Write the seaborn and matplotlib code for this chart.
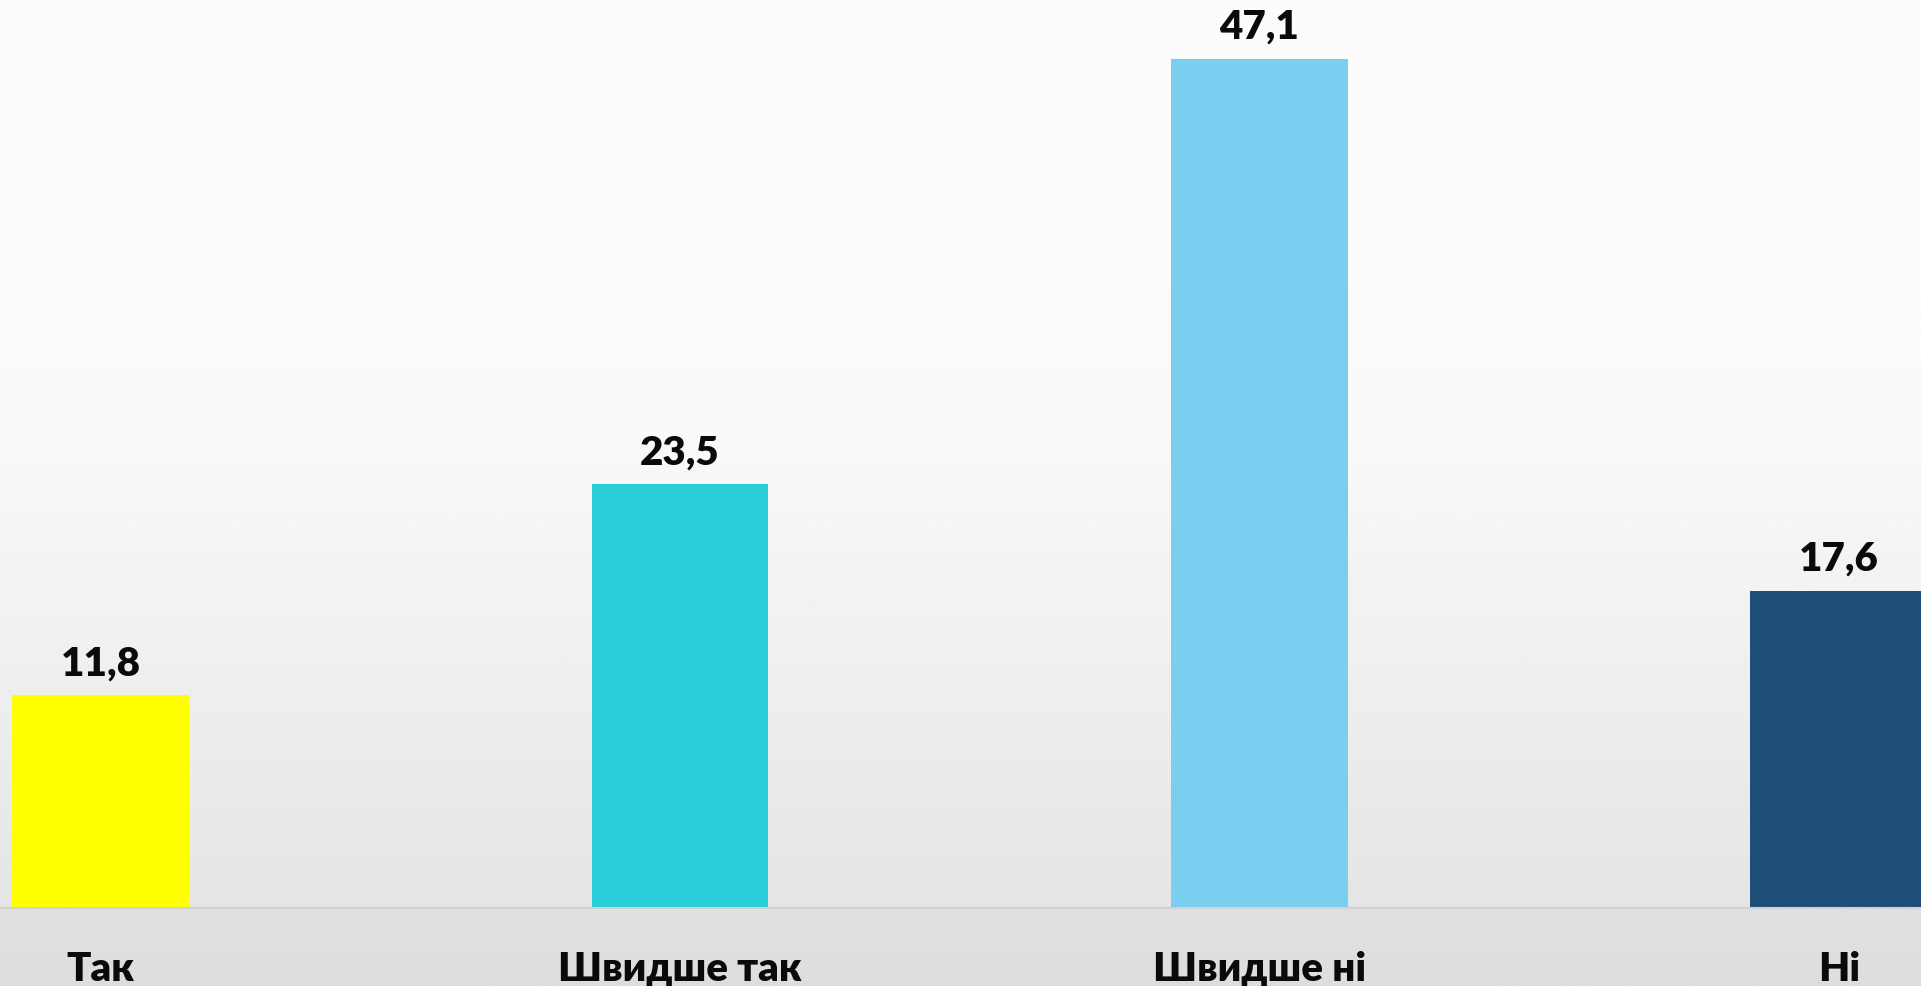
import numpy as np
import pandas as pd
import matplotlib
matplotlib.use("Agg")
import matplotlib.pyplot as plt
import seaborn as sns

categories = ["Так", "Швидше так", "Швидше ні", "Ні"]
values = [11.8, 23.5, 47.1, 17.6]
value_labels = ["11,8", "23,5", "47,1", "17,6"]
colors = ["#FFFF00", "#27CED7", "#7ACEF0", "#1F4E79"]

sns.set_theme(style="white")
plt.rcParams["font.family"] = ["Lato", "Open Sans", "DejaVu Sans"]

W, H = 1921, 987
fig = plt.figure(figsize=(W / 100, H / 100), dpi=100)

# background gradient over the whole figure
bg = fig.add_axes([0, 0, 1, 1])
ys = np.linspace(0, 1, 400)  # 0 = top, 1 = bottom
pts_y = [0.0, 0.30, 0.45, 0.70, 0.92, 0.921, 1.0]
pts_c = [252, 251, 249, 238, 229, 224, 221]
g = np.interp(ys, pts_y, pts_c) / 255.0
img = np.repeat(g[:, None], 2, axis=1)
bg.imshow(img, cmap="gray", vmin=0, vmax=1, aspect="auto", extent=[0, 1, 0, 1])
bg.set_axis_off()

band = 78 / H
ax = fig.add_axes([0, band, 1, 1 - band])
ax.patch.set_alpha(0)

df = pd.DataFrame({"cat": categories, "val": values})
sns.barplot(data=df, x="cat", y="val", hue="cat", palette=colors,
            width=0.305, legend=False, ax=ax, saturation=1.0, linewidth=0)

ax.set_xlim(-0.174, 3.142)
ax.set_ylim(0, 50.4)
ax.set_xlabel("")
ax.set_ylabel("")
ax.set_yticks([])
ax.tick_params(axis="x", length=0, pad=30)
ax.set_xticks(range(len(categories)))
ax.set_xticklabels(categories, fontsize=29, fontweight="heavy", color="#0a0a0a")
for s in ["top", "right", "left"]:
    ax.spines[s].set_visible(False)
ax.spines["bottom"].set_color("#d2d2d2")
ax.spines["bottom"].set_linewidth(1.5)

for i, (v, lab) in enumerate(zip(values, value_labels)):
    ax.annotate(lab, (i, v), xytext=(0, 14), textcoords="offset pixels",
                ha="center", va="bottom", fontsize=29, fontweight="heavy",
                color="#0a0a0a")

fig.savefig("out.png", dpi=100)
